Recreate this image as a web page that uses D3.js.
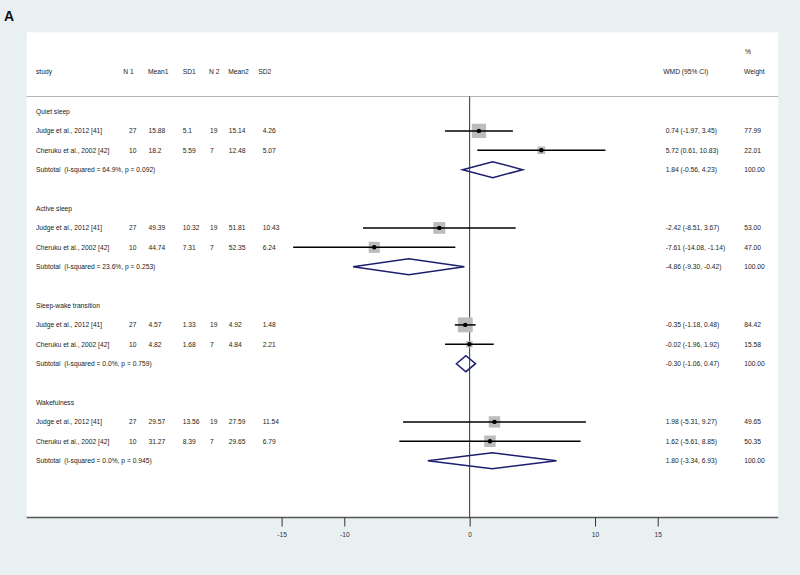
<!DOCTYPE html>
<html>
<head>
<meta charset="utf-8">
<script src="https://cdn.jsdelivr.net/npm/d3@7"></script>
<style>
  html, body { margin: 0; padding: 0; background: #e9f0f2; }
  svg { display: block; }
  text { white-space: pre; }
</style>
</head>
<body>
<svg id="chart" width="800" height="575"></svg>
<script>
// ---------------- data ----------------
const groups = ["Quiet sleep", "Active sleep", "Sleep-wake transition", "Wakefulness"];
const studyNames = ["Judge et al., 2012 [41]", "Cheruku et al., 2002 [42]"];
// per group, per study
const n1    = [[27, 10], [27, 10], [27, 10], [27, 10]];
const mean1 = [["15.88", "18.2"], ["49.39", "44.74"], ["4.57", "4.82"], ["29.57", "31.27"]];
const sd1   = [["5.1", "5.59"], ["10.32", "7.31"], ["1.33", "1.68"], ["13.56", "8.39"]];
const n2    = [[19, 7], [19, 7], [19, 7], [19, 7]];
const mean2 = [["15.14", "12.48"], ["51.81", "52.35"], ["4.92", "4.84"], ["27.59", "29.65"]];
const sd2   = [["4.26", "5.07"], ["10.43", "6.24"], ["1.48", "2.21"], ["11.54", "6.79"]];
const wmd   = [[0.74, 5.72], [-2.42, -7.61], [-0.35, -0.02], [1.98, 1.62]];
const ciLo  = [[-1.97, 0.61], [-8.51, -14.08], [-1.18, -1.96], [-5.31, -5.61]];
const ciHi  = [[3.45, 10.83], [3.67, -1.14], [0.48, 1.92], [9.27, 8.85]];
const weight = [[77.99, 22.01], [53.00, 47.00], [84.42, 15.58], [49.65, 50.35]];
// subtotals
const subLabel = ["Subtotal  (I-squared = 64.9%, p = 0.092)", "Subtotal  (I-squared = 23.6%, p = 0.253)",
                  "Subtotal  (I-squared = 0.0%, p = 0.759)", "Subtotal  (I-squared = 0.0%, p = 0.945)"];
const subWmd = [1.84, -4.86, -0.30, 1.80];
const subLo  = [-0.56, -9.30, -1.06, -3.34];
const subHi  = [4.23, -0.42, 0.47, 6.93];
const tickValues = [-15, -10, 0, 10, 15];

// ---------------- layout ----------------
const svg = d3.select("#chart");
const font = "'Liberation Sans', Arial, sans-serif";
const fs = 6.7;
const panel = {x0: 26.7, x1: 778.3, y0: 32.3, y1: 517.5};

svg.append("rect").attr("x", 0).attr("y", 0).attr("width", 800).attr("height", 575).attr("fill", "#e9f0f2");
svg.append("rect").attr("x", panel.x0).attr("y", panel.y0)
   .attr("width", panel.x1 - panel.x0).attr("height", panel.y1 - panel.y0).attr("fill", "#ffffff");

svg.append("text").attr("x", 4).attr("y", 20.5).text("A")
   .attr("font-family", font).attr("font-weight", "bold").attr("font-size", 14).attr("fill", "#111");

const x = d3.scaleLinear().domain([-15, 15]).range([281.6, 657.7]);
const y = d3.scaleLinear().domain([0, 18]).range([111.5, 460.7]);

const cols = {study: 36, n1: 129, mean1: 148.5, sd1: 182.7, n2: 210, mean2: 228.7, sd2: 262.7, wmd: 665.7, w: 744.3};
const hcols = {study: 36, n1: 123.3, mean1: 148, sd1: 182.7, n2: 209, mean2: 228.3, sd2: 258.3, wmd: 663.3, w: 744};

function txt(xp, yp, s) {
  svg.append("text").attr("x", xp).attr("y", yp).attr("dy", "0.35em").text(s)
     .attr("font-family", font).attr("font-size", fs).attr("fill", "#222");
}

// header
const hy = 71.5;
txt(hcols.study, hy, "study");
txt(hcols.n1, hy, "N 1");
txt(hcols.mean1, hy, "Mean1");
txt(hcols.sd1, hy, "SD1");
txt(hcols.n2, hy, "N 2");
txt(hcols.mean2, hy, "Mean2");
txt(hcols.sd2, hy, "SD2");
txt(hcols.wmd, hy, "WMD (95% CI)");
txt(hcols.w + 1, 52, "%");
txt(hcols.w, hy, "Weight");

// header rule
svg.append("line").attr("x1", panel.x0).attr("x2", panel.x1).attr("y1", 96.5).attr("y2", 96.5)
   .attr("stroke", "#b5b5b5").attr("stroke-width", 1);

// zero line
svg.append("line").attr("x1", x(0)).attr("x2", x(0)).attr("y1", 96.5).attr("y2", panel.y1)
   .attr("stroke", "#333").attr("stroke-width", 1);

const fmt2 = v => v.toFixed(2);
const boxScale = 1.62;

groups.forEach((g, gi) => {
  const r0 = gi * 5;
  txt(cols.study, y(r0), g);
  studyNames.forEach((s, si) => {
    const yy = y(r0 + 1 + si);
    txt(cols.study, yy, s);
    txt(cols.n1, yy, n1[gi][si]);
    txt(cols.mean1, yy, mean1[gi][si]);
    txt(cols.sd1, yy, sd1[gi][si]);
    txt(cols.n2, yy, n2[gi][si]);
    txt(cols.mean2, yy, mean2[gi][si]);
    txt(cols.sd2, yy, sd2[gi][si]);
    txt(cols.wmd, yy, `${fmt2(wmd[gi][si])} (${fmt2(ciLo[gi][si])}, ${fmt2(ciHi[gi][si])})`);
    txt(cols.w, yy, fmt2(weight[gi][si]));
    // box
    const side = Math.sqrt(weight[gi][si]) * boxScale;
    svg.append("rect").attr("x", x(wmd[gi][si]) - side / 2).attr("y", yy - side / 2)
       .attr("width", side).attr("height", side).attr("fill", "#bcbcbc");
    // CI
    svg.append("line").attr("x1", x(ciLo[gi][si])).attr("x2", x(ciHi[gi][si]))
       .attr("y1", yy).attr("y2", yy).attr("stroke", "#000").attr("stroke-width", 1.5);
    svg.append("circle").attr("cx", x(wmd[gi][si])).attr("cy", yy).attr("r", 2.2).attr("fill", "#000");
  });
  const ys = y(r0 + 3);
  txt(cols.study, ys, subLabel[gi]);
  txt(cols.wmd, ys, `${fmt2(subWmd[gi])} (${fmt2(subLo[gi])}, ${fmt2(subHi[gi])})`);
  txt(cols.w, ys, "100.00");
  const h = 8;
  const pts = [[x(subLo[gi]), ys], [x(subWmd[gi]), ys - h], [x(subHi[gi]), ys], [x(subWmd[gi]), ys + h]];
  svg.append("polygon").attr("points", pts.map(p => p.join(",")).join(" "))
     .attr("fill", "none").attr("stroke", "#1b1f6e").attr("stroke-width", 1.5);
});

// x axis
const axisG = svg.append("g").attr("transform", `translate(0,${panel.y1})`);
axisG.append("line").attr("x1", panel.x0).attr("x2", panel.x1).attr("y1", 0).attr("y2", 0)
     .attr("stroke", "#555").attr("stroke-width", 1.5);
const axis = d3.axisBottom(x).tickValues(tickValues).tickSize(9).tickPadding(6).tickFormat(d => String(d));
axisG.call(axis);
axisG.select(".domain").remove();
axisG.selectAll(".tick line").attr("stroke", "#333").attr("stroke-width", 1);
axisG.selectAll(".tick text").attr("font-family", font).attr("font-size", fs).attr("fill", "#333");
</script>
</body>
</html>
